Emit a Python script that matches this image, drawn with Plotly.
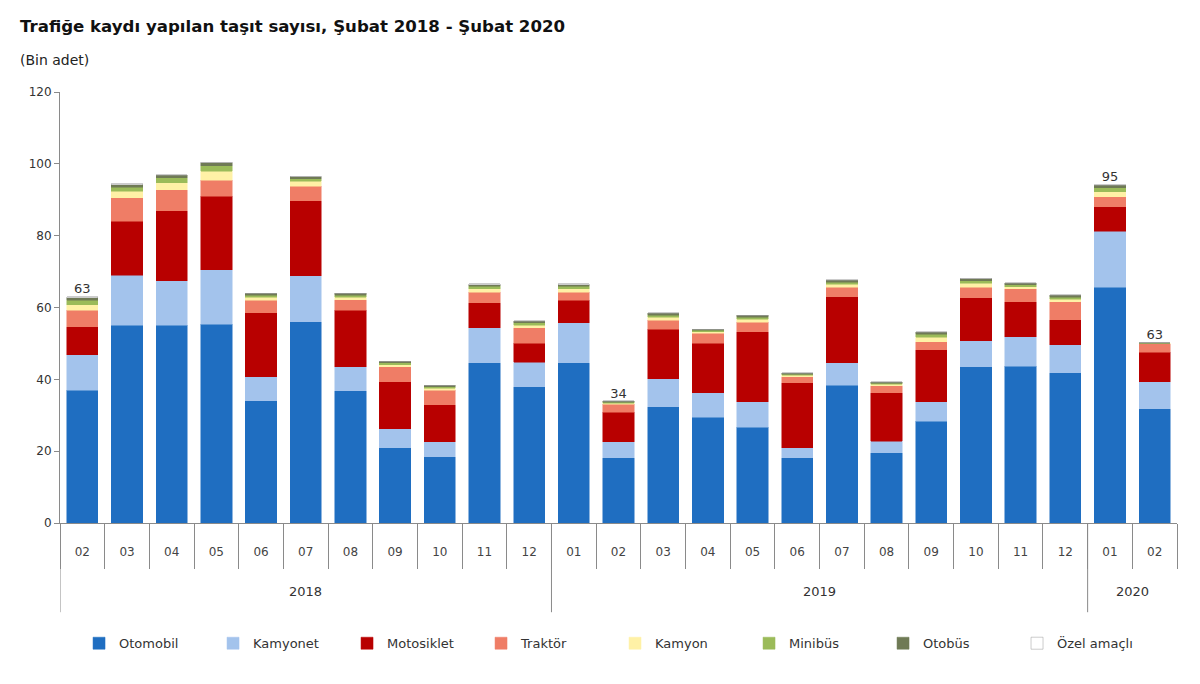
import plotly.graph_objects as go

# Kaynak: TÜİK, bin adet
years = ["2018"] * 11 + ["2019"] * 12 + ["2020"] * 2
months = ["02", "03", "04", "05", "06", "07", "08", "09", "10", "11", "12",
          "01", "02", "03", "04", "05", "06", "07", "08", "09", "10", "11", "12",
          "01", "02"]

otomobil = [37, 55, 55, 55.4, 34, 56, 36.8, 21, 18.4, 44.6, 37.9,
            44.6, 18.1, 32.3, 29.5, 26.7, 18.1, 38.4, 19.5, 28.4, 43.5, 43.7, 41.8,
            65.7, 31.8]
kamyonet = [9.8, 14, 12.4, 15.1, 6.7, 12.8, 6.7, 5.2, 4.2, 9.7, 6.9,
            11.1, 4.5, 7.8, 6.7, 7.0, 2.8, 6.2, 3.3, 5.3, 7.2, 8.1, 7.8,
            15.6, 7.5]
motosiklet = [7.8, 15, 19.6, 20.5, 17.8, 20.9, 15.8, 13.1, 10.3, 7.0, 5.3,
              6.3, 8.3, 13.9, 13.9, 19.5, 18.1, 18.4, 13.4, 14.5, 12.0, 9.8, 7.0,
              6.7, 8.3]
traktor = [4.7, 6.5, 5.8, 4.5, 3.5, 4.1, 2.8, 4.2, 4.1, 3.0, 4.2,
           2.3, 2.2, 2.5, 2.8, 2.7, 1.7, 2.7, 2.0, 2.2, 3.0, 3.6, 5.0,
           2.8, 2.3]
kamyon = [1.5, 1.8, 2.0, 2.4, 0.8, 1.3, 0.7, 0.6, 0.5, 0.9, 0.8,
          0.9, 0.2, 0.8, 0.4, 0.8, 0.4, 0.8, 0.4, 1.3, 1.0, 0.6, 0.7,
          1.4, 0.1]
minibus = [1.2, 1.2, 1.3, 1.6, 0.6, 0.7, 0.6, 0.5, 0.4, 0.7, 0.6,
           0.7, 0.3, 0.6, 0.3, 0.6, 0.3, 0.6, 0.3, 0.8, 0.7, 0.5, 0.6,
           1.1, 0.1]
otobus = [0.7, 0.7, 0.7, 0.8, 0.5, 0.6, 0.5, 0.4, 0.4, 0.5, 0.5,
          0.5, 0.3, 0.5, 0.3, 0.5, 0.3, 0.5, 0.3, 0.6, 0.6, 0.5, 0.5,
          0.7, 0.1]
ozel_amacli = [0.3, 0.2, 0.2, 0.2, 0.1, 0.2, 0.1, 0.1, 0.1, 0.2, 0.1,
               0.2, 0.1, 0.1, 0.1, 0.1, 0.1, 0.1, 0.1, 0.2, 0.2, 0.1, 0.1,
               0.2, 0.0]

# value labels shown above a few bars
label_idx = [0, 12, 23, 24]
label_text = ["63", "34", "95", "63"]

FONT = "'DejaVu Sans', Arial, sans-serif"
GREY = "#8A8A8A"

series = [
    ("Otomobil", otomobil, "#1F6EC1"),
    ("Kamyonet", kamyonet, "#A3C3EC"),
    ("Motosiklet", motosiklet, "#B80000"),
    ("Traktör", traktor, "#EF7D66"),
    ("Kamyon", kamyon, "#FFF1A6"),
    ("Minibüs", minibus, "#9BBB59"),
    ("Otobüs", otobus, "#6F7A55"),
    ("Özel amaçlı", ozel_amacli, "#FFFFFF"),
]

# unique category per bar, month shown as tick text
cats = [f"{y}-{m}" for y, m in zip(years, months)]

fig = go.Figure()
for name, vals, color in series:
    fig.add_trace(go.Bar(
        x=cats, y=vals, name=name,
        marker=dict(color=color, line=dict(color="#999999" if color == "#FFFFFF" else color, width=0.5)),
    ))

totals = [sum(s[1][i] for s in series) for i in range(len(cats))]
fig.add_trace(go.Scatter(
    x=[cats[i] for i in label_idx], y=[totals[i] for i in label_idx],
    text=label_text, mode="text", textposition="top center",
    textfont=dict(family=FONT, size=13, color="#333333"),
    showlegend=False, hoverinfo="skip",
))

# year group dividers + labels under the month ticks
year_names = list(dict.fromkeys(years))
starts = [years.index(y) for y in year_names]
ends = [len(years) - 1 - years[::-1].index(y) for y in year_names]
shapes = [dict(type="line", xref="x", yref="paper", x0=s - 0.5, x1=s - 0.5,
               y0=0, y1=-0.207, line=dict(color=GREY, width=1))
          for s in starts]
annotations = [dict(text=y, xref="x", yref="paper", x=(s + e) / 2, y=-0.182,
                    showarrow=False, font=dict(family=FONT, size=13, color="#333333"))
               for y, s, e in zip(year_names, starts, ends)]

annotations += [
    dict(text="<b>Trafiğe kaydı yapılan taşıt sayısı, Şubat 2018 - Şubat 2020</b>",
         xref="paper", yref="paper", x=-0.0376, y=1.151, xanchor="left", yanchor="middle",
         showarrow=False, font=dict(family=FONT, size=16.6, color="#111111")),
    dict(text="(Bin adet)", xref="paper", yref="paper", x=-0.0376, y=1.074,
         xanchor="left", yanchor="middle", showarrow=False,
         font=dict(family=FONT, size=14, color="#222222")),
]

fig.update_layout(
    width=1184, height=668,
    paper_bgcolor="white", plot_bgcolor="white",
    barmode="stack", bargap=0.3,
    font=dict(family=FONT, size=12, color="#333333"),
    margin=dict(l=52, r=15, t=84, b=153),
    legend=dict(orientation="h", xref="container", yref="container",
                x=0.06, y=0.049, xanchor="left", yanchor="middle",
                entrywidth=89, traceorder="normal",
                font=dict(family=FONT, size=13, color="#333333")),
    shapes=shapes,
    annotations=annotations,
)

fig.update_yaxes(range=[0, 120], dtick=20, showgrid=False, showline=True,
                 linecolor=GREY, ticks="outside", ticklen=5, tickcolor=GREY,
                 zeroline=False, tickfont=dict(size=12))
fig.update_xaxes(type="category", tickvals=cats, ticktext=months,
                 range=[-0.5, len(cats) - 0.5],
                 showline=True, linecolor=GREY, ticks="outside", tickson="boundaries",
                 ticklen=45, tickcolor=GREY, ticklabelstandoff=18,
                 tickfont=dict(size=12, color="#444444"))

fig.write_html("out.html")
